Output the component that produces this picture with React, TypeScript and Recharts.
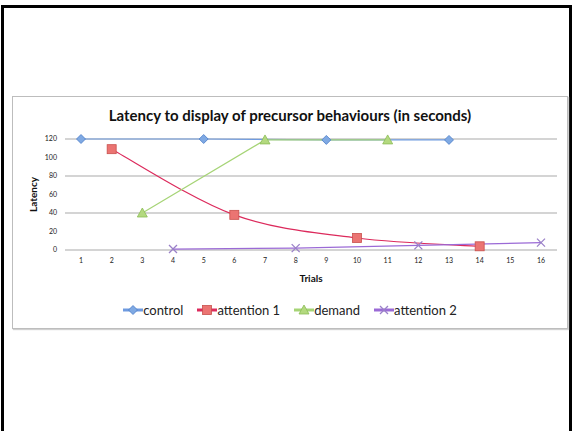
import React from "react";
import {
  LineChart,
  Line,
  XAxis,
  YAxis,
  CartesianGrid,
  Legend,
  Label
} from "recharts";

const trials = ["1", "2", "3", "4", "5", "6", "7", "8", "9", "10", "11", "12", "13", "14", "15", "16"];

// null = no observation in that trial
const control = [120, null, null, null, 120, null, null, null, 119, null, null, null, 119, null, null, null];
const attention1 = [null, 109, null, null, null, 38, null, null, null, 13, null, null, null, 4, null, null];
const demand = [null, null, 40, null, null, null, 119, null, null, null, 119, null, null, null, null, null];
const attention2 = [null, null, null, 1, null, null, null, 2, null, null, null, 5, null, null, null, 8];

const yTicks = [0, 20, 40, 60, 80, 100, 120];

const chartData = trials.map((t, i) => ({
  trial: t,
  control: control[i],
  attention1: attention1[i],
  demand: demand[i],
  attention2: attention2[i]
}));

const FONT = "Lato, 'Open Sans', sans-serif";
const ORDER = ["control", "attention1", "demand", "attention2"];

const SERIES: Record<string, { name: string; line: string; fill: string; edge: string; shape: string }> = {
  control: { name: "control", line: "#6f9be0", fill: "#7fa9e3", edge: "#4a7cc8", shape: "diamond" },
  attention1: { name: "attention 1", line: "#dc2a5c", fill: "#eb7472", edge: "#c9504c", shape: "square" },
  demand: { name: "demand", line: "#a6d476", fill: "#b3d97f", edge: "#8cbc55", shape: "triangle" },
  attention2: { name: "attention 2", line: "#9b6ad6", fill: "none", edge: "#9a80c8", shape: "cross" }
};

// excel-style smoothed line (catmull-rom like bezier)
const excelSmooth = (context: any) => {
  let pts: number[][] = [];
  return {
    areaStart() {},
    areaEnd() {},
    lineStart() {
      pts = [];
    },
    point(x: number, y: number) {
      pts.push([+x, +y]);
    },
    lineEnd() {
      if (!pts.length) return;
      context.moveTo(pts[0][0], pts[0][1]);
      for (let i = 0; i < pts.length - 1; i++) {
        const p0 = pts[Math.max(i - 1, 0)];
        const p1 = pts[i];
        const p2 = pts[i + 1];
        const p3 = pts[Math.min(i + 2, pts.length - 1)];
        context.bezierCurveTo(
          p1[0] + (p2[0] - p0[0]) / 6,
          p1[1] + (p2[1] - p0[1]) / 6,
          p2[0] - (p3[0] - p1[0]) / 6,
          p2[1] - (p3[1] - p1[1]) / 6,
          p2[0],
          p2[1]
        );
      }
    }
  };
};

const Marker = ({ cx, cy, kind }: any) => {
  const s = SERIES[kind];
  if (s.shape === "diamond") {
    return <path d={`M${cx},${cy - 4.5}L${cx + 4.5},${cy}L${cx},${cy + 4.5}L${cx - 4.5},${cy}Z`} fill={s.fill} stroke={s.edge} strokeWidth={0.8} />;
  }
  if (s.shape === "square") {
    return <rect x={cx - 4.5} y={cy - 4.5} width={9} height={9} fill={s.fill} stroke={s.edge} strokeWidth={0.8} />;
  }
  if (s.shape === "triangle") {
    return <path d={`M${cx},${cy - 5}L${cx + 5},${cy + 4}L${cx - 5},${cy + 4}Z`} fill={s.fill} stroke={s.edge} strokeWidth={0.8} />;
  }
  return (
    <path d={`M${cx - 4},${cy - 4}L${cx + 4},${cy + 4}M${cx + 4},${cy - 4}L${cx - 4},${cy + 4}`} stroke={s.edge} strokeWidth={1.3} fill="none" />
  );
};

const makeDot = (kind: string) => (props: any) => {
  const { cx, cy, value, index } = props;
  if (value == null || cx == null || cy == null) return <g key={`${kind}-${index}`} />;
  return <Marker key={`${kind}-${index}`} cx={cx} cy={cy} kind={kind} />;
};

const LegendContent = ({ payload }: any) => {
  const items = ORDER.filter((k) => (payload || []).some((p: any) => p.dataKey === k));
  return (
    <div style={{ display: "flex", justifyContent: "center", fontFamily: FONT, fontSize: 13, color: "#222" }}>
      {items.map((k, i) => {
        const s = SERIES[k];
        return (
          <div key={k} style={{ display: "flex", alignItems: "center", marginRight: i < items.length - 1 ? 14 : 0 }}>
            <svg width={20} height={12}>
              <line x1={0} y1={6} x2={20} y2={6} stroke={s.line} strokeWidth={3} />
              <Marker cx={10} cy={6} kind={k} />
            </svg>
            <span>{s.name}</span>
          </div>
        );
      })}
    </div>
  );
};

export default function App() {
  return (
    <div style={{ position: "fixed", left: 0, top: 0, width: 572, height: 431, background: "#fff" }}>
      <div
        style={{
          position: "absolute",
          left: 1,
          top: 5,
          width: 565,
          height: 430,
          borderLeft: "3px solid #000",
          borderTop: "3px solid #000",
          borderRight: "3px solid #000"
        }}
      />
      <div
        style={{
          position: "absolute",
          left: 12,
          top: 96,
          width: 554,
          height: 231,
          border: "1px solid #bdbdbd",
          boxShadow: "1px 1px 1px #d0d0d0"
        }}
      >
        <div
          style={{
            position: "absolute",
            left: 0,
            top: 9,
            width: 554,
            textAlign: "center",
            fontFamily: FONT,
            fontWeight: 700,
            fontSize: 15,
            color: "#111"
          }}
        >
          Latency to display of precursor behaviours (in seconds)
        </div>
        <LineChart
          width={554}
          height={231}
          data={chartData}
          margin={{ top: 42, right: 10, left: 22, bottom: 42 }}
        >
          <CartesianGrid vertical={false} stroke="#c6c6c6" strokeWidth={1.5} />
          <XAxis
            dataKey="trial"
            axisLine={false}
            tickLine={false}
            height={36}
            interval={0}
            padding={{ left: 16, right: 16 }}
            tick={{ fontSize: 7, fill: "#222", fontFamily: FONT }}
          >
            <Label value="Trials" position="insideBottom" offset={4} style={{ fontSize: 10, fontWeight: 700, fill: "#111", fontFamily: FONT }} />
          </XAxis>
          <YAxis
            width={30}
            domain={[0, 120]}
            ticks={yTicks}
            axisLine={false}
            tickLine={false}
            tick={{ fontSize: 7, fill: "#222", fontFamily: FONT }}
          >
            <Label value="Latency" angle={-90} position="insideLeft" offset={-2} style={{ fontSize: 10, fontWeight: 700, fill: "#111", fontFamily: FONT, textAnchor: "middle" }} />
          </YAxis>
          <Legend
            layout="horizontal"
            verticalAlign="middle"
            align="center"
            wrapperStyle={{ top: 205, left: 0, width: 554 }}
            content={<LegendContent />}
          />
          <Line dataKey="control" name="control" stroke={SERIES.control.line} strokeWidth={1.2} connectNulls type="linear" dot={makeDot("control")} activeDot={false} isAnimationActive={false} />
          <Line dataKey="attention1" name="attention 1" stroke={SERIES.attention1.line} strokeWidth={1.2} connectNulls type={excelSmooth as any} dot={makeDot("attention1")} activeDot={false} isAnimationActive={false} />
          <Line dataKey="demand" name="demand" stroke={SERIES.demand.line} strokeWidth={1.2} connectNulls type="linear" dot={makeDot("demand")} activeDot={false} isAnimationActive={false} />
          <Line dataKey="attention2" name="attention 2" stroke={SERIES.attention2.line} strokeWidth={1.2} connectNulls type="linear" dot={makeDot("attention2")} activeDot={false} isAnimationActive={false} />
        </LineChart>
      </div>
    </div>
  );
}
